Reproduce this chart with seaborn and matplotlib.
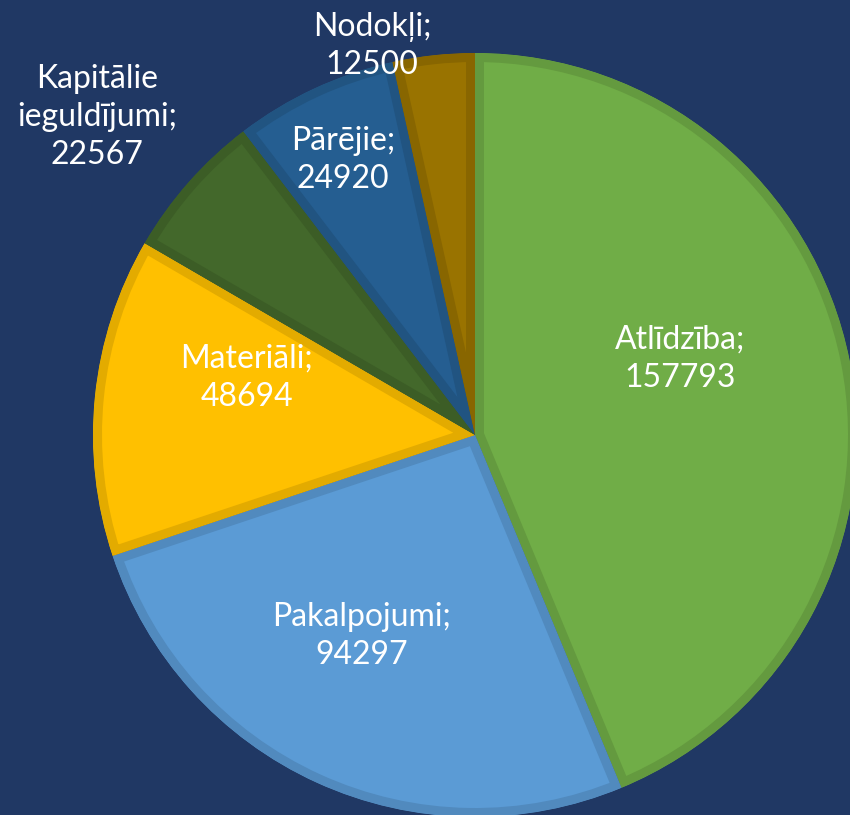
import matplotlib
matplotlib.use("Agg")
import matplotlib.pyplot as plt
import matplotlib.colors as mcolors
import seaborn as sns

# ---- data ----
categories = ["Atlīdzība", "Pakalpojumi", "Materiāli", "Kapitālie\nieguldījumi", "Pārējie", "Nodokļi"]
values = [157793, 94297, 48694, 22567, 24920, 12500]
colors = ["#70AD47", "#5B9BD5", "#FFC000", "#43682B", "#255E91", "#997300"]
# label centres (layout, in pixel coords from top-left)
label_pos = [(680, 359), (362, 636), (247, 378), (97, 117), (343, 160), (372, 46)]

BG = "#203864"

sns.set_theme(style="white")
plt.rcParams["font.family"] = ["Lato", "DejaVu Sans"]

W, H = 850, 815
fig = plt.figure(figsize=(W / 100, H / 100), dpi=100, facecolor=BG)
ax = fig.add_axes([0, 0, 1, 1])
ax.set_facecolor(BG)

cx, cy, R = 475, 435, 382
wedges, _ = ax.pie(values, colors=colors, startangle=90, counterclock=False,
                   center=(cx, H - cy), radius=R, frame=True)

border_px = 9
for w, c in zip(wedges, colors):
    rgb = mcolors.to_rgb(c)
    dark = tuple(v * 0.89 for v in rgb)
    w.set_edgecolor(dark)
    w.set_linewidth(2 * border_px * 72 / 100)
    w.set_joinstyle("round")
    w.set_clip_on(True)
    w.set_clip_path(w)

for cat, v, (x, y) in zip(categories, values, label_pos):
    ax.text(x, H - y, f"{cat};\n{v}", ha="center", va="center", color="white",
            fontsize=23, linespacing=1.35)

ax.set_xlim(0, W)
ax.set_ylim(0, H)
ax.set_aspect("equal")
ax.axis("off")

fig.savefig("out.png", dpi=100, facecolor=BG)
